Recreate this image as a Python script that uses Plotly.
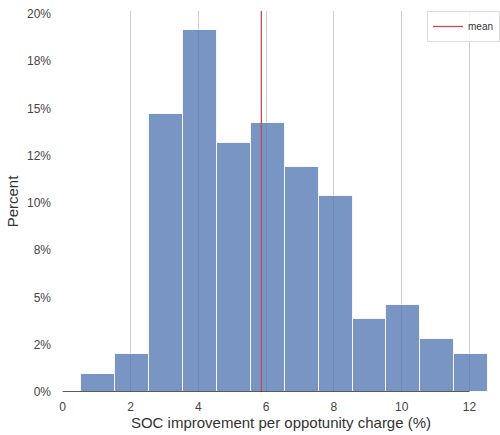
import plotly.graph_objects as go

# Data
bin_starts = [0.55, 1.55, 2.55, 3.55, 4.55, 5.55, 6.55, 7.55, 8.55, 9.55, 10.55, 11.55]
bin_width = 1.0
percents = [0.97, 2.03, 14.73, 19.14, 13.17, 14.23, 11.9, 10.35, 3.85, 4.62, 2.82, 2.03]
mean_value = 5.86

x_tick_vals = [0, 2, 4, 6, 8, 10, 12]
x_tick_text = ["0", "2", "4", "6", "8", "10", "12"]
y_tick_vals = [0, 2.5, 5, 7.5, 10, 12.5, 15, 17.5, 20]
y_tick_text = ["0%", "2%", "5%", "8%", "10%", "12%", "15%", "18%", "20%"]

y_max = 20.16
font_family = "Liberation Sans, Arial, sans-serif"

fig = go.Figure()
fig.add_trace(go.Bar(
    x=bin_starts,
    y=percents,
    width=[bin_width] * len(bin_starts),
    offset=0,
    marker=dict(color="rgba(76,114,176,0.75)",
                line=dict(color="rgba(255,255,255,0.85)", width=1)),
    showlegend=False,
    hoverinfo="skip",
))
fig.add_trace(go.Scatter(
    x=[mean_value, mean_value],
    y=[0, y_max],
    mode="lines",
    line=dict(color="#c44e52", width=1.3),
    name="mean",
    showlegend=True,
    hoverinfo="skip",
))

# trimmed bottom spine (0 .. 12)
fig.add_shape(type="line", xref="x", yref="y",
              x0=x_tick_vals[0], x1=x_tick_vals[-1], y0=0, y1=0,
              line=dict(color="#262626", width=1.4), layer="above")

fig.update_layout(
    width=500, height=435,
    margin=dict(l=62, r=0, t=11, b=43, autoexpand=False),
    paper_bgcolor="white", plot_bgcolor="white",
    font=dict(family=font_family, color="#333333", size=11),
    bargap=0,
    legend=dict(x=1.0, y=1.0, xanchor="right", yanchor="top",
                bgcolor="rgba(255,255,255,0.8)", bordercolor="#dddddd",
                borderwidth=1, font=dict(size=10, color="#333333"),
                itemwidth=30, tracegroupgap=0),
    xaxis=dict(range=[-0.02, 12.9], tickvals=x_tick_vals, ticktext=x_tick_text,
               showgrid=True, gridcolor="#cccccc", gridwidth=1,
               zeroline=False, showline=False, ticks="", automargin=False,
               ticklabelstandoff=6,
               tickfont=dict(size=12, color="#444444"),
               title=dict(text="SOC improvement per oppotunity charge (%)",
                          font=dict(size=15, color="#333333"), standoff=3)),
    yaxis=dict(range=[0, y_max], tickvals=y_tick_vals, ticktext=y_tick_text,
               showgrid=False, zeroline=False, showline=False, ticks="",
               ticklabelstandoff=10, automargin=False,
               tickfont=dict(size=12, color="#444444"),
               title=dict(text="Percent", font=dict(size=15, color="#333333"),
                          standoff=4)),
)

fig.write_html(
    "out.html",
    config={"displayModeBar": False},
    post_script="document.body.style.margin='0';document.body.style.overflow='hidden';",
)
